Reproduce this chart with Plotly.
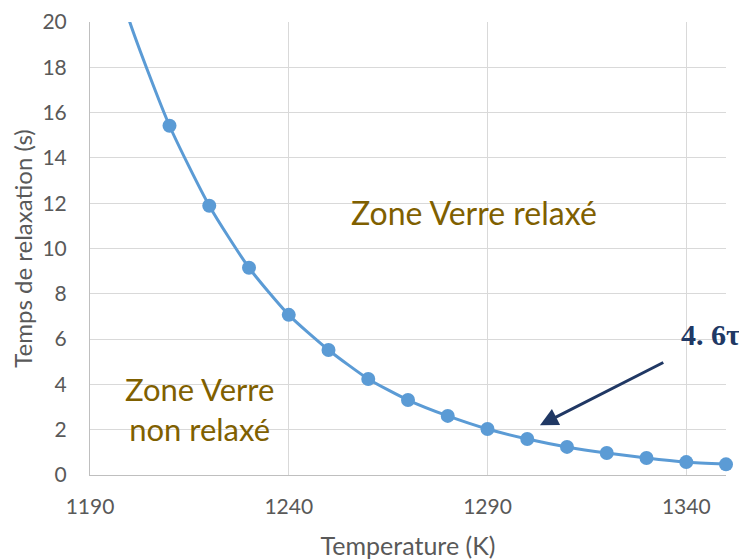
import plotly.graph_objects as go

# Relaxation time vs temperature
temps = [1190, 1200, 1210, 1220, 1230, 1240, 1250, 1260, 1270, 1280,
         1290, 1300, 1310, 1320, 1330, 1340, 1350]
tau = [26.0, 20.0, 15.42, 11.89, 9.15, 7.07, 5.52, 4.24, 3.31, 2.61,
       2.03, 1.59, 1.24, 0.97, 0.75, 0.57, 0.47]
# markers only shown for points inside the y range
marker_temps = temps[2:]
marker_tau = tau[2:]

x_ticks = [1190, 1240, 1290, 1340]
y_ticks = list(range(0, 21, 2))

BLUE = "#5B9BD5"
GOLD = "#7F6000"
NAVY = "#203864"
GREY_TXT = "#595959"
FONT = "Lato"

fig = go.Figure()
fig.add_trace(go.Scatter(
    x=temps, y=tau,
    mode="lines",
    line=dict(color=BLUE, width=3, shape="spline", smoothing=0.6),
    showlegend=False,
    hoverinfo="skip",
))
fig.add_trace(go.Scatter(
    x=marker_temps, y=marker_tau,
    mode="markers",
    marker=dict(color=BLUE, size=14),
    cliponaxis=False,
    showlegend=False,
))

# zone labels
fig.add_annotation(x=1286.5, y=11.6, text="Zone Verre relaxé", showarrow=False,
                   font=dict(family=FONT, size=32, color=GOLD))
fig.add_annotation(x=1217.5, y=2.9, text="Zone Verre<br>non relaxé", showarrow=False,
                   font=dict(family=FONT, size=31, color=GOLD))

# arrow + 4.6 tau label
fig.add_annotation(x=1303.2, y=2.2, ax=1334.6, ay=5.0,
                   xref="x", yref="y", axref="x", ayref="y",
                   text="", showarrow=True, arrowhead=2, arrowsize=1.2,
                   arrowwidth=3, arrowcolor=NAVY)
fig.add_annotation(x=1346.0, y=6.2, text="<b>4. 6τ</b>", showarrow=False,
                   font=dict(family="Liberation Serif", size=30, color=NAVY))

axis_common = dict(
    showgrid=True, gridcolor="#D9D9D9", gridwidth=1,
    showline=True, linecolor="#BFBFBF", linewidth=1,
    zeroline=False, ticks="", automargin=False,
    tickfont=dict(family=FONT, size=21, color=GREY_TXT),
)
fig.update_xaxes(
    range=[1190, 1350], tickvals=x_ticks, ticklabelstandoff=13,
    title=dict(text="Temperature (K)", standoff=20,
               font=dict(family=FONT, size=25, color=GREY_TXT)),
    **axis_common,
)
fig.update_yaxes(
    range=[0, 20], tickvals=y_ticks, ticklabelstandoff=18,
    title=dict(text="Temps de relaxation (s)", standoff=10,
               font=dict(family=FONT, size=24, color=GREY_TXT)),
    **axis_common,
)
# the page adds an 8 px body margin, so the figure is sized to fit inside it
fig.update_layout(
    width=739, height=552,
    margin=dict(l=82, r=21, t=14, b=85),
    plot_bgcolor="white", paper_bgcolor="white",
)

fig.write_html("out.html")
